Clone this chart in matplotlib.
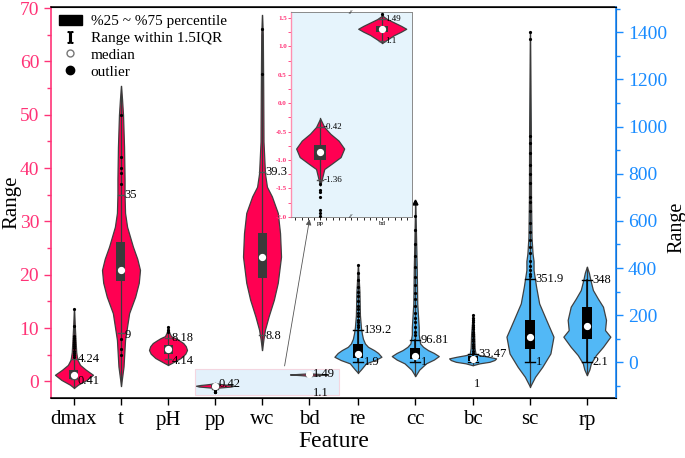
import numpy as np
import matplotlib
matplotlib.use('Agg')
import matplotlib.pyplot as plt
from matplotlib.patches import Rectangle, Patch
from matplotlib.lines import Line2D
from matplotlib.ticker import MultipleLocator, FormatStrFormatter

plt.rcParams['font.family'] = ['Liberation Serif', 'DejaVu Serif']
plt.rcParams['mathtext.fontset'] = 'stix'

features = ['dmax', 't', 'pH', 'pp', 'wc', 'bd', 're', 'cc', 'bc', 'sc', 'rp']

# violin outlines: value levels and (relative) density
dmax_y = [-1.2, -0.6, 0.3, 1.25, 2.2, 3.1, 4.1, 5.5, 7.5, 10, 13.6]
dmax_d = [0, 4, 12.5, 18.7, 11.7, 6, 3.3, 2.2, 1.6, 0.9, 0]
t_y = [-0.8, 2.8, 7.8, 12.8, 15.9, 18.5, 20.9, 23, 25.3, 29, 31.6, 35, 38, 44, 50, 53, 55.4]
t_d = [0, 2.5, 4, 8, 14, 17.5, 18.7, 16, 11.7, 6, 4, 3.5, 3.5, 3, 2, 1, 0]
ph_y = [3.1, 3.5, 4.4, 5.2, 5.9, 6.6, 7.2, 7.7, 8.1, 8.5, 9.2, 10.3]
ph_d = [0, 4, 12.5, 17, 18.7, 17.5, 15, 11, 7.5, 3, 1.2, 0]
pp_y = [-1.45, -1.31, -1.16, -1.07, -0.95, -0.8, -0.66, -0.54, -0.42, -0.27]
pp_d = [0, 2, 4, 11, 20, 23.5, 18, 10, 4, 0]
wc_y = [5.9, 8, 9.7, 12.2, 15.3, 18.5, 23.4, 27.8, 31.6, 34.7, 36.5, 39, 45, 55, 65, 68.7]
wc_d = [0, 1.5, 3, 6.7, 12, 16, 19.3, 18.3, 16, 10, 5, 3, 1.5, 1.2, 0.8, 0]
bd_y = [1.06, 1.12, 1.2, 1.26, 1.31, 1.36, 1.42, 1.48, 1.53, 1.58]
bd_d = [0, 5, 12, 19, 24, 19, 12, 5, 1, 0]
re_y = [-44, -30, -4, 10, 23.8, 40, 52, 66, 80, 100, 120, 148, 200, 300, 413]
re_d = [0, 3, 8, 17, 23.3, 20, 16, 10, 7, 5, 4, 3, 2, 1.5, 0]
cc_y = [-58, -31, -4, 12, 26.7, 40, 52, 66, 80, 118, 150, 250, 400, 680]
cc_d = [0, 4, 11, 19, 24, 19, 13, 8, 5, 3.5, 3.5, 2, 1.5, 0]
bc_y = [-12, -4, 2.5, 10, 17, 24, 30, 35, 60, 120, 200]
bc_d = [0, 7, 17, 22, 23.7, 16, 8, 3, 2, 1.5, 0]
sc_y = [-103, -61, -19, 38, 109, 179, 250, 321, 392, 430, 462, 533, 700, 1000, 1402]
sc_d = [0, 5, 12, 20, 23, 16, 9, 6, 3.5, 3.5, 2.5, 1.5, 1, 0.8, 0]
rp_y = [-54, -30, -4, 31, 66, 109, 137, 180, 236, 270, 307, 350, 380, 405.6]
rp_d = [0, 2.5, 4, 9, 16, 23.3, 18, 19, 16, 11, 6, 3.5, 2, 0]

# box stats: q1, median, q3, lower whisker, upper whisker
dmax_box = [0.55, 1.2, 2.1, 0.41, 4.24]
t_box = [18.9, 20.9, 26.1, 9, 35]
ph_box = [5.2, 6.07, 6.9, 4.14, 8.18]
pp_box = [-1.01, -0.86, -0.73, -1.36, -0.42]
wc_box = [19.4, 23.4, 27.8, 8.8, 39.3]
bd_box = [1.25, 1.31, 1.36, 1.1, 1.49]
re_box = [17, 34, 76, 1.9, 139.2]
cc_box = [13, 27, 59, 1, 96.81]
bc_box = [4, 14, 25, 1, 33.47]
sc_box = [55, 109, 179, 1, 351.9]
rp_box = [98, 155, 236, 2.1, 348]

# outliers
dmax_out = [13.6, 10.4, 8.6, 8.2, 7.8, 7.4, 7.0, 6.6, 6.2, 5.8, 5.4, 5.0, 4.6]
t_out = [50, 42, 40, 39, 37, 8, 6, 5]
ph_out = [10.2, 9.7, 9.2]
pp_out = [-1.42, -1.53, -1.57, -1.66, -1.89, -1.94, -1.98]
wc_out = [66.0, 57.7]
bd_out = [1.57]
re_out = [413, 380, 350, 320, 300, 280, 260, 240, 225, 210, 195, 180, 170, 160, 150]
cc_out = [680, 620, 560, 500, 450, 405, 360, 330, 293, 270, 240, 210, 190, 170, 150, 130, 115]
bc_out = [200, 190, 180, 170, 160, 150, 140, 130, 120, 110, 100, 90, 80, 70, 60, 50, 40]
sc_out = [1402, 1372, 960, 930, 890, 837, 800, 760, 703, 680, 640, 592, 553, 520, 490, 462, 430, 410, 390, 375, 365]
rp_out = []

# value labels next to the whisker caps
upper_txt = ['4.24', '35', '8.18', '0.42', '39.3', '1.49', '139.2', '96.81', '33.47', '351.9', '348']
lower_txt = ['0.41', '9', '4.14', '', '8.8', '', '1.9', '1', '1', '1', '2.1']
inset_upper = ['-0.42', '1.49']
inset_lower = ['-1.36', '1.1']

RED = '#FF0052'
RED_AX = '#FF3377'
BLUE = '#52B8F6'
BLUE_AX = '#1A8CFF'
EDGE = '#404040'

# x positions of categories (spacing is uneven in the original)
xpos = [1, 2, 3, 4, 5, 6, 7.04, 8.26, 9.48, 10.70, 11.91]


def draw_violin(axis, x, ys, dens, st, outs, half, face, box_c, box_hw, cap_hw, blue=False):
    ys = np.asarray(ys, float)
    d = np.asarray(dens, float)
    d = d / d.max() * half
    axis.fill_betweenx(ys, x - d, x + d, facecolor=face, edgecolor=EDGE, lw=0.9, zorder=2)
    top = max(ys.max(), max(outs) if outs else ys.max())
    axis.plot([x, x], [ys.min(), top], color='#3a3a3a', lw=0.9, zorder=3)
    q1, med, q3, wlo, whi = st
    if blue:
        axis.plot([x, x], [wlo, whi], color='black', lw=1.1, zorder=3)
    axis.add_patch(Rectangle((x - box_hw, q1), 2 * box_hw, q3 - q1,
                             facecolor=box_c, edgecolor='none', zorder=4))
    cap_c = 'black' if blue else '#505050'
    for w in (wlo, whi):
        axis.plot([x - cap_hw, x + cap_hw], [w, w], color=cap_c, lw=1.0, zorder=4)
    if outs:
        axis.plot([x] * len(outs), outs, 'o', color='black', ms=2.3, mew=0, zorder=5)
    axis.plot([x], [med], 'o', mfc='white', mec='white', ms=4.2, zorder=6)


fig = plt.figure(figsize=(6.85, 4.58), dpi=100)
ax = fig.add_axes([51 / 685, 1 - 398 / 458, (616 - 51) / 685, (398 - 7) / 458])
ax2 = ax.twinx()

ax.set_xlim(0.511, 12.53)
ax.set_ylim(-3.1, 70.2)
ax2.set_ylim(-151, 1507)

px = 1 / 47.0  # one pixel in x data units
red_half = 19 * px
blue_half = 23.5 * px

left_sets = [(dmax_y, dmax_d, dmax_box, dmax_out), (t_y, t_d, t_box, t_out),
             (ph_y, ph_d, ph_box, ph_out), (pp_y, pp_d, pp_box, pp_out),
             (wc_y, wc_d, wc_box, wc_out), (bd_y, bd_d, bd_box, bd_out)]
right_sets = [(re_y, re_d, re_box, re_out), (cc_y, cc_d, cc_box, cc_out),
              (bc_y, bc_d, bc_box, bc_out), (sc_y, sc_d, sc_box, sc_out),
              (rp_y, rp_d, rp_box, rp_out)]

# shaded zoom window around pp / bd
ax.add_patch(Rectangle((3.57, -2.5), 3.07, 4.9, facecolor='#E3F1FB',
                       edgecolor='#F4D6E0', lw=0.8, zorder=1))

for i, (ys, dd, st, outs) in enumerate(left_sets):
    x = xpos[i]
    draw_violin(ax, x, ys, dd, st, outs, red_half, RED, '#3a3a3a', 4.5 * px, 3 * px)
    if upper_txt[i]:
        ax.annotate(upper_txt[i], (x + 3 * px, st[4]), xytext=(0.5, 0),
                    textcoords='offset points', va='center', fontsize=9, zorder=7)
    if lower_txt[i]:
        ax.annotate(lower_txt[i], (x + 3 * px, st[3]), xytext=(0.5, -1),
                    textcoords='offset points', va='center', fontsize=9, zorder=7)
# stray "1.1" label of bd in main axes
ax.annotate('1.1', (xpos[5] + 3 * px, -2.1), xytext=(0.5, 0),
            textcoords='offset points', va='center', fontsize=9, zorder=7)

for j, (ys, dd, st, outs) in enumerate(right_sets):
    i = j + 6
    x = xpos[i]
    draw_violin(ax2, x, ys, dd, st, outs, blue_half, BLUE, 'black', 5 * px, 5 * px, blue=True)
    ax2.annotate(upper_txt[i], (x + 5 * px, st[4]), xytext=(0.5, 0),
                 textcoords='offset points', va='center', fontsize=9, zorder=7)
    if features[i] == 'bc':
        ax2.annotate(lower_txt[i], (x + 1 * px, st[3]), xytext=(0, -16),
                     textcoords='offset points', va='center', fontsize=9, zorder=7)
    else:
        ax2.annotate(lower_txt[i], (x + 5 * px, st[3]), xytext=(0.5, 0),
                     textcoords='offset points', va='center', fontsize=9, zorder=7)
# arrow tip on top of cc
ax2.plot([xpos[7]], [max(cc_out)], '^', color='black', ms=3.5, zorder=6)

# axes styling
ax.set_xticks(xpos)
ax.set_xticklabels(features, fontsize=15)
ax.tick_params(axis='x', direction='out', length=5, width=1, pad=4)
ax.set_xlabel('Feature', fontsize=17, labelpad=1)
ax.set_ylabel('Range', fontsize=15)
ax.yaxis.set_label_coords(-0.052, 0.5)
ax.yaxis.set_major_locator(MultipleLocator(10))
ax.yaxis.set_minor_locator(MultipleLocator(5))
ax.tick_params(axis='y', which='major', colors=RED_AX, labelsize=14, length=5, width=1)
ax.tick_params(axis='y', which='minor', colors=RED_AX, length=3, width=1)
ax.spines['left'].set_color(RED_AX)
ax.spines['left'].set_linewidth(1.2)
ax2.spines['left'].set_visible(False)

ax2.set_ylabel('Range', fontsize=14.5)
ax2.yaxis.set_label_coords(1.091, 0.437)
ax2.yaxis.set_major_locator(MultipleLocator(200))
ax2.yaxis.set_minor_locator(MultipleLocator(100))
ax2.tick_params(axis='y', which='major', colors=BLUE_AX, labelsize=14, length=5, width=1)
ax2.tick_params(axis='y', which='minor', colors=BLUE_AX, length=3, width=1)
ax2.spines['right'].set_color(BLUE_AX)
ax2.spines['right'].set_linewidth(1.2)
for s in ('top', 'bottom'):
    ax.spines[s].set_linewidth(1.1)

# legend
handles = [Patch(facecolor='black', edgecolor='black'),
           Line2D([], [], marker='$\\mathrm{I}$', color='black', ls='none', ms=8),
           Line2D([], [], marker='o', mfc='white', mec='#777777', ls='none', ms=5),
           Line2D([], [], marker='o', color='black', ls='none', ms=6)]
labels = ['%25 ~ %75 percentile', 'Range within 1.5IQR', 'median', 'outlier']
ax2.legend(handles, labels, loc='upper left', frameon=False, fontsize=11,
           handlelength=1.5, handletextpad=0.6, labelspacing=0.2,
           borderaxespad=0.2, borderpad=0.3)

# inset with the zoomed pp / bd violins
axi = fig.add_axes([291 / 685, 1 - 216.7 / 458, (412 - 291) / 685, (216.7 - 12.3) / 458])
axi.set_facecolor('#E6F4FC')
ipos = [1, 2]
ipx = 1 / 62.0
inset_sets = [(pp_y, pp_d, pp_box, pp_out), (bd_y, bd_d, bd_box, bd_out)]
for k, (ys, dd, st, outs) in enumerate(inset_sets):
    draw_violin(axi, ipos[k], ys, dd, st, outs, 24 * ipx, RED, '#3a3a3a', 6 * ipx, 3 * ipx)
    axi.annotate(inset_upper[k], (ipos[k] + 3 * ipx, st[4]), xytext=(0.3, 0),
                 textcoords='offset points', va='center', fontsize=6.5)
    axi.annotate(inset_lower[k], (ipos[k] + 3 * ipx, st[3]), xytext=(0.3, 0),
                 textcoords='offset points', va='center', fontsize=6.5)
axi.set_xlim(0.53, 2.48)
axi.set_ylim(-2.0, 1.6)
axi.set_xticks(ipos)
axi.set_xticklabels(['pp', 'bd'], fontsize=5)
axi.xaxis.set_minor_locator(MultipleLocator(0.1))
axi.tick_params(axis='x', which='both', length=2, width=0.6, pad=1)
axi.yaxis.set_major_locator(MultipleLocator(0.5))
axi.yaxis.set_minor_locator(MultipleLocator(0.25))
axi.yaxis.set_major_formatter(FormatStrFormatter('%.1f'))
axi.tick_params(axis='y', which='both', colors=RED_AX, labelsize=5, length=2, width=0.6, pad=1)
for lab in axi.get_yticklabels():
    lab.set_fontweight('bold')
for s in ('top', 'bottom', 'right'):
    axi.spines[s].set_color('#8a8a8a')
    axi.spines[s].set_linewidth(0.7)
axi.spines['left'].set_color('#FF8FB0')
axi.spines['left'].set_linewidth(1.0)
axi.text(0.49, 1.0, '//', transform=axi.transAxes, fontsize=5, ha='center', va='center', style='italic')
axi.text(0.49, 0.0, '//', transform=axi.transAxes, fontsize=5, ha='center', va='center', style='italic')

# connector from zoom window to the inset
axi.annotate('', xy=(0.157, 0.0), xycoords='axes fraction',
             xytext=(5.47, 2.4), textcoords=ax.transData,
             arrowprops=dict(arrowstyle='-|>', color='#555555', lw=0.6, mutation_scale=8))

fig.savefig('out.png', dpi=100)
